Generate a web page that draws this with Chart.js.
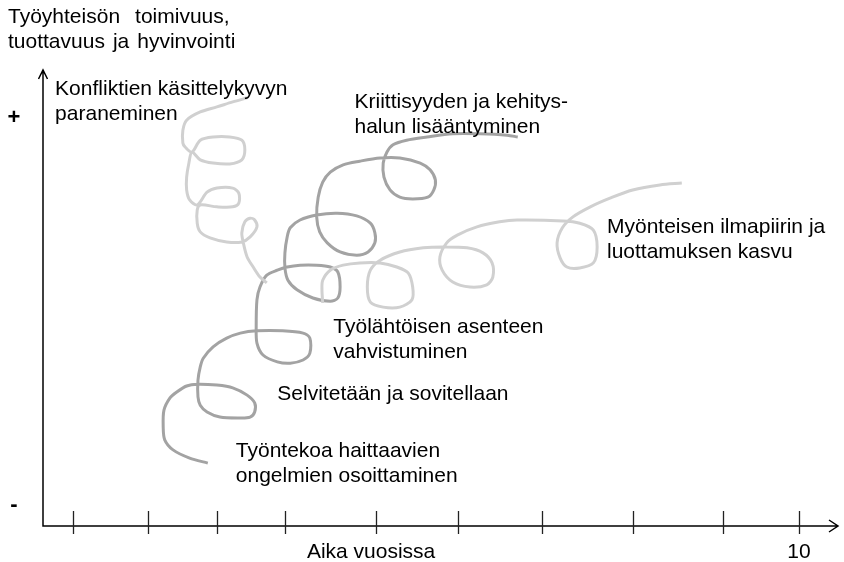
<!DOCTYPE html>
<html>
<head>
<meta charset="utf-8">
<script src="https://cdn.jsdelivr.net/npm/chart.js@4.4.1/dist/chart.umd.min.js"></script>
<style>
  html, body { margin: 0; padding: 0; background: #fff; }
  #wrap { width: 844px; height: 562px; }
</style>
</head>
<body>
<div id="wrap"><canvas id="myChart" width="844" height="562"></canvas></div>
<script>
// x = time in years (last tick is 10), y = 0 ("-") .. 10 (top of the axis)
const xTicks = [0.4, 1.39, 2.3, 3.2, 4.4, 5.49, 6.6, 7.8, 8.99, 10];
const xTickLabels = ['', '', '', '', '', '', '', '', '', '10'];
const yTicks = [0.46, 8.95];
const yTickLabels = ['-', '+'];

// dark stroke: from problems up to criticism / will to develop
const workPath = [
  [2.18, 1.38], [1.94, 1.49], [1.72, 1.67], [1.61, 1.89], [1.59, 2.17], [1.60, 2.54],
  [1.68, 2.81], [1.77, 2.94], [1.90, 3.07], [2.04, 3.11], [2.30, 3.09], [2.51, 3.03],
  [2.70, 2.87], [2.80, 2.70], [2.80, 2.50], [2.74, 2.39], [2.61, 2.37], [2.34, 2.39],
  [2.17, 2.50], [2.08, 2.65], [2.05, 2.83], [2.05, 3.20], [2.08, 3.49], [2.12, 3.68],
  [2.25, 3.93], [2.43, 4.12], [2.61, 4.23], [2.83, 4.28], [3.17, 4.28], [3.44, 4.23],
  [3.53, 4.12], [3.53, 3.79], [3.44, 3.64], [3.27, 3.57], [3.10, 3.60], [2.91, 3.75],
  [2.83, 4.01], [2.82, 4.36], [2.83, 4.96], [2.87, 5.24], [2.96, 5.50], [3.10, 5.61],
  [3.23, 5.68], [3.40, 5.72], [3.62, 5.72], [3.80, 5.68], [3.90, 5.57], [3.93, 5.24],
  [3.90, 5.00], [3.80, 4.93], [3.57, 5.00], [3.36, 5.18], [3.24, 5.39], [3.20, 5.66],
  [3.20, 5.99], [3.23, 6.34], [3.27, 6.54], [3.40, 6.71], [3.62, 6.82], [3.89, 6.86],
  [4.15, 6.80], [4.33, 6.64], [4.39, 6.43], [4.39, 6.21], [4.30, 6.01], [4.15, 5.94],
  [3.93, 6.01], [3.76, 6.21], [3.66, 6.45], [3.62, 6.78], [3.64, 7.21], [3.70, 7.54],
  [3.80, 7.76], [3.97, 7.92], [4.19, 8.00], [4.46, 8.07], [4.72, 8.07], [4.99, 7.96],
  [5.12, 7.81], [5.19, 7.59], [5.17, 7.37], [5.09, 7.21], [4.89, 7.17], [4.72, 7.21],
  [4.59, 7.37], [4.51, 7.65], [4.50, 7.96], [4.55, 8.20], [4.63, 8.36], [4.81, 8.46],
  [5.08, 8.53], [5.42, 8.60], [5.78, 8.60], [6.14, 8.57], [6.28, 8.53]
];

// light stroke: conflict handling
const conflictPath = [
  [2.70, 9.39], [2.51, 9.30], [2.30, 9.19], [2.08, 9.08], [1.90, 8.90], [1.85, 8.68],
  [1.85, 8.40], [1.88, 8.31], [1.97, 8.20], [2.08, 8.46], [2.25, 8.53], [2.47, 8.53],
  [2.63, 8.46], [2.67, 8.25], [2.63, 8.03], [2.47, 7.94], [2.25, 7.96], [2.08, 8.03],
  [1.97, 8.20], [1.93, 7.96], [1.90, 7.65], [1.90, 7.37], [1.94, 7.15], [2.04, 7.04],
  [2.17, 7.32], [2.30, 7.41], [2.51, 7.41], [2.59, 7.30], [2.59, 7.08], [2.51, 7.00],
  [2.30, 7.00], [2.08, 7.04], [2.04, 6.93], [2.04, 6.64], [2.08, 6.45], [2.21, 6.32],
  [2.43, 6.23], [2.63, 6.23], [2.74, 6.34], [2.83, 6.56], [2.80, 6.71], [2.74, 6.75],
  [2.67, 6.67], [2.63, 6.43], [2.65, 6.21], [2.70, 5.90], [2.78, 5.68], [2.87, 5.46],
  [2.96, 5.33]
];

// light stroke: positive climate and trust
const climatePath = [
  [3.70, 4.89], [3.69, 5.18], [3.70, 5.39], [3.80, 5.61], [3.97, 5.72], [4.19, 5.77],
  [4.46, 5.77], [4.68, 5.68], [4.83, 5.55], [4.89, 5.24], [4.88, 4.96], [4.72, 4.80],
  [4.50, 4.80], [4.33, 4.91], [4.29, 5.24], [4.33, 5.61], [4.46, 5.83], [4.72, 6.01],
  [5.03, 6.10], [5.29, 6.12], [5.61, 6.10], [5.82, 5.99], [5.94, 5.77], [5.95, 5.46],
  [5.87, 5.29], [5.65, 5.24], [5.42, 5.35], [5.28, 5.61], [5.25, 5.90], [5.34, 6.21],
  [5.48, 6.38], [5.74, 6.56], [6.04, 6.67], [6.27, 6.71], [6.88, 6.69], [7.10, 6.64],
  [7.28, 6.49], [7.33, 6.12], [7.28, 5.77], [7.10, 5.66], [6.93, 5.68], [6.84, 5.88],
  [6.80, 6.21], [6.87, 6.54], [7.01, 6.78], [7.24, 7.00], [7.50, 7.19], [7.80, 7.37],
  [8.16, 7.48], [8.45, 7.52]
];

const toPoints = path => path.map(p => ({ x: p[0], y: p[1] }));

const FONT = '21px "Liberation Sans", Arial, sans-serif';

// phase notes, anchored in chart values (left edge, first baseline)
const notes = [
  { x: 0.16, y: 9.45, lines: ['Konfliktien käsittelykyvyn', 'paraneminen'] },
  { x: 4.12, y: 9.17, lines: ['Kriittisyyden ja kehitys-', 'halun lisääntyminen'] },
  { x: 7.46, y: 6.43, lines: ['Myönteisen ilmapiirin ja', 'luottamuksen kasvu'] },
  { x: 3.84, y: 4.23, lines: ['Työlähtöisen asenteen', 'vahvistuminen'] },
  { x: 3.10, y: 2.76, lines: ['Selvitetään ja sovitellaan'] },
  { x: 2.55, y: 1.51, lines: ['Työntekoa haittaavien', 'ongelmien osoittaminen'] }
];

// draw a line word by word with a given gap between words
function spacedText(ctx, text, x, y, gap) {
  let cx = x;
  text.split(' ').forEach(w => {
    ctx.fillText(w, cx, y);
    cx += ctx.measureText(w).width + gap;
  });
}

const sketchAxes = {
  id: 'sketchAxes',
  afterDatasetsDraw(chart) {
    const { ctx, scales: { x, y } } = chart;
    const x0 = x.getPixelForValue(0);
    const y0 = y.getPixelForValue(0);
    const xEnd = x.getPixelForValue(x.max);
    const yEnd = y.getPixelForValue(y.max);
    ctx.save();

    // axes with open arrow heads
    ctx.strokeStyle = '#000';
    ctx.lineWidth = 1.5;
    ctx.beginPath();
    ctx.moveTo(x0, yEnd);
    ctx.lineTo(x0, y0);
    ctx.lineTo(xEnd, y0);
    ctx.moveTo(x0 - 4.5, yEnd + 9);
    ctx.lineTo(x0, yEnd);
    ctx.lineTo(x0 + 4.5, yEnd + 9);
    ctx.moveTo(xEnd - 9, y0 - 6);
    ctx.lineTo(xEnd, y0);
    ctx.lineTo(xEnd - 9, y0 + 6);
    ctx.stroke();

    // year ticks
    ctx.strokeStyle = '#222';
    ctx.lineWidth = 1.3;
    ctx.beginPath();
    xTicks.forEach(v => {
      const px = Math.round(x.getPixelForValue(v)) + 0.5;
      ctx.moveTo(px, y0 - 15);
      ctx.lineTo(px, y0 + 8);
    });
    ctx.stroke();

    ctx.fillStyle = '#000';
    ctx.font = FONT;
    ctx.textBaseline = 'alphabetic';

    ctx.textAlign = 'center';
    xTicks.forEach((v, i) => {
      if (xTickLabels[i]) ctx.fillText(xTickLabels[i], x.getPixelForValue(v), 558);
    });
    ctx.fillText('Aika vuosissa', x.getPixelForValue(4.34), 558);

    ctx.font = 'bold 22px "Liberation Sans", Arial, sans-serif';
    ctx.textBaseline = 'middle';
    yTicks.forEach((v, i) => {
      ctx.fillText(yTickLabels[i], 14, y.getPixelForValue(v));
    });

    ctx.font = FONT;
    ctx.textAlign = 'left';
    ctx.textBaseline = 'alphabetic';
    spacedText(ctx, 'Työyhteisön toimivuus,', 8, 23, 15);
    spacedText(ctx, 'tuottavuus ja hyvinvointi', 8, 48, 8);

    notes.forEach(n => {
      const px = x.getPixelForValue(n.x);
      const py = y.getPixelForValue(n.y);
      n.lines.forEach((t, i) => ctx.fillText(t, px, py + i * 25));
    });
    ctx.restore();
  }
};

const strokeStyle = color => ({
  borderColor: color,
  borderWidth: 3,
  pointRadius: 0,
  showLine: true,
  tension: 0.3,
  fill: false
});

new Chart(document.getElementById('myChart').getContext('2d'), {
  type: 'scatter',
  data: {
    datasets: [
      { label: 'Konfliktit', data: toPoints(conflictPath), ...strokeStyle('#d0d0d0') },
      { label: 'Ilmapiiri', data: toPoints(climatePath), ...strokeStyle('#d0d0d0') },
      { label: 'Työote', data: toPoints(workPath), ...strokeStyle('#a3a3a3') }
    ]
  },
  options: {
    responsive: false,
    animation: false,
    layout: { padding: { left: 43, right: 6, top: 70, bottom: 36 } },
    scales: {
      x: { type: 'linear', min: 0, max: 10.516, display: false },
      y: { type: 'linear', min: 0, max: 10, display: false }
    },
    plugins: {
      legend: { display: false },
      tooltip: { enabled: false }
    }
  },
  plugins: [sketchAxes]
});
</script>
</body>
</html>
